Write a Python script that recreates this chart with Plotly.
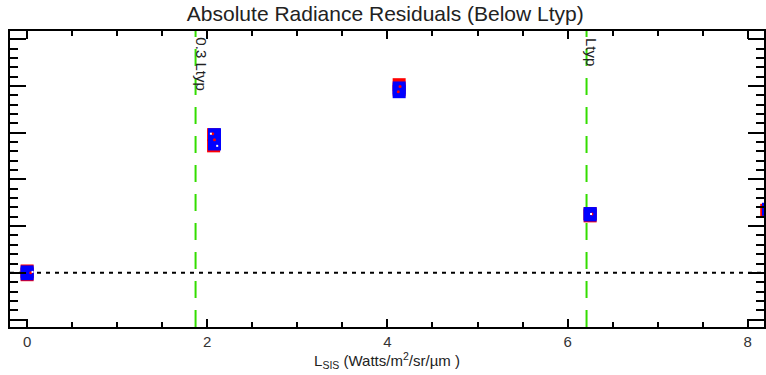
import plotly.graph_objects as go

# ---- data ----
red_x = [0.0, 0.0, 2.07, 2.07, 4.13, 4.13, 6.25, 6.25, 8.21]
red_y = [0.04, -0.04, 2.96, 2.72, 4.03, 3.92, 1.27, 1.22, 1.34]
blue_x = [0.0, 0.0, 2.08, 2.08, 4.13, 4.13, 6.25, 6.25, 8.23]
blue_y = [0.02, -0.02, 2.96, 2.76, 3.96, 3.88, 1.27, 1.24, 1.36]
dot_x = [0.04, 2.08, 2.06, 4.12, 4.14, 6.27]
dot_y = [0.0, 2.85, 2.98, 3.88, 3.99, 1.26]
white_x = [0.06, 2.11, 2.04, 6.26]
white_y = [0.02, 2.72, 2.98, 1.26]

xticks = [0, 2, 4, 6, 8]
vline_x = [1.87, 6.21]
vline_labels = ["0.3 Ltyp", "Ltyp"]
ref_level = 0.0

fig = go.Figure()
fig.add_trace(go.Scatter(x=red_x, y=red_y, mode="markers",
                         marker=dict(symbol="square", size=13, color="#ff0000",
                                     line=dict(width=0))))
fig.add_trace(go.Scatter(x=blue_x, y=blue_y, mode="markers",
                         marker=dict(symbol="square", size=13, color="#0000ff",
                                     line=dict(width=0))))
fig.add_trace(go.Scatter(x=dot_x, y=dot_y, mode="markers",
                         marker=dict(symbol="circle", size=3, color="#ff0000",
                                     line=dict(width=0))))
fig.add_trace(go.Scatter(x=white_x, y=white_y, mode="markers",
                         marker=dict(symbol="square", size=2, color="#ffffff",
                                     line=dict(width=0))))

# reference dotted line
fig.add_shape(type="line", xref="paper", x0=0, x1=1, yref="y", y0=ref_level, y1=ref_level,
              line=dict(color="black", width=2, dash="4px,5px"), layer="below")

for xv, lab in zip(vline_x, vline_labels):
    fig.add_shape(type="line", xref="x", x0=xv, x1=xv, yref="paper", y0=0, y1=1,
                  line=dict(color="#33dd00", width=2, dash="17px,12px"), layer="below")
    fig.add_annotation(x=xv, xref="x", y=0.985, yref="paper", text=lab, textangle=90,
                       showarrow=False, xanchor="center", yanchor="top", xshift=5,
                       font=dict(family="Liberation Sans, Arial", size=15, color="#222"))

axis_common = dict(showgrid=False, zeroline=False, showline=True, linecolor="black",
                   linewidth=2, mirror="ticks", ticks="inside", tickcolor="black",
                   tickwidth=2)

fig.update_layout(
    width=766, height=375,
    margin=dict(l=10, r=0, t=31, b=48),
    paper_bgcolor="white", plot_bgcolor="white",
    showlegend=False,
    font=dict(family="Liberation Sans, Arial", color="#222"),
    title=dict(text="Absolute Radiance Residuals (Below Ltyp)", x=0.503, xanchor="center",
               y=0.963, yanchor="middle",
               font=dict(family="Liberation Sans, Arial", size=21, color="#222")),
    xaxis=dict(range=[-0.19, 8.18], tickmode="array", tickvals=xticks,
               ticktext=[str(t) for t in xticks], ticklen=8,
               minor=dict(dtick=0.5, tick0=0, ticklen=5, ticks="inside", tickcolor="black",
                          tickwidth=2),
               tickfont=dict(size=15, color="#333"),
               title=dict(text="L<sub>SIS</sub> (Watts/m<sup>2</sup>/sr/µm )",
                          font=dict(size=15, color="#222"), standoff=3),
               **axis_common),
    yaxis=dict(range=[-1.16, 5.18], tick0=0, dtick=1, ticklen=16, showticklabels=False,
               minor=dict(dtick=0.2, tick0=0, ticklen=8, ticks="inside", tickcolor="black",
                          tickwidth=2),
               **axis_common),
)

fig.write_html("out.html")
